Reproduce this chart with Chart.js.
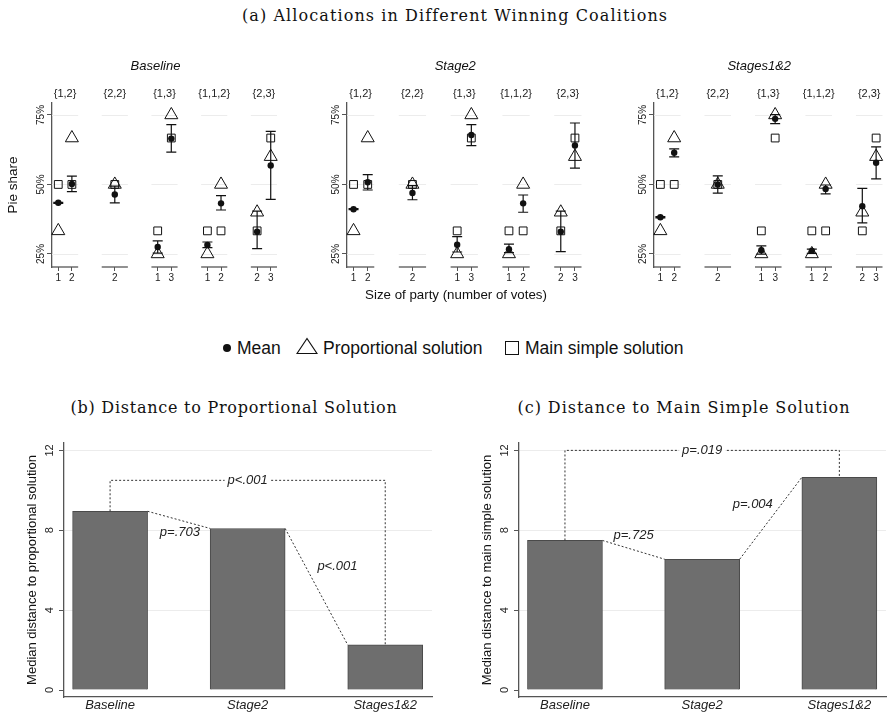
<!DOCTYPE html>
<html>
<head>
<meta charset="utf-8">
<script src="https://cdn.jsdelivr.net/npm/chart.js@4.4.1/dist/chart.umd.min.js"></script>
<style>
body { margin: 0; background: #fff; }
#wrap { position: relative; width: 891px; height: 717px; overflow: hidden; font-family: 'Liberation Sans', Arial, sans-serif; color: #111; }
canvas { position: absolute; }
.t { position: absolute; white-space: nowrap; transform: translate(-50%, -50%); }
.serif { font-family: 'DejaVu Serif', serif; font-size: 16px; }
.lg { position: absolute; top: 338px; line-height: 20px; font-size: 17.5px; white-space: nowrap; }
</style>
</head>
<body>
<div id="wrap">
  <div class="t serif" style="left:455px;top:15px;letter-spacing:1.1px">(a) Allocations in Different Winning Coalitions</div>
  <canvas id="pBase" width="290" height="240" style="left:0;top:50px"></canvas>
  <canvas id="pStage2" width="295" height="240" style="left:295px;top:50px"></canvas>
  <canvas id="pStages12" width="289" height="240" style="left:602px;top:50px"></canvas>
  <div class="t" style="left:456px;top:294px;font-size:13.3px">Size of party (number of votes)</div>

  <span style="position:absolute;left:223px;top:344px;width:8px;height:8px;border-radius:50%;background:#111"></span>
  <span class="lg" style="left:237px">Mean</span>
  <svg style="position:absolute;left:296px;top:337px" width="22" height="18"><polygon points="11,1.5 21,16.5 1,16.5" fill="none" stroke="#111" stroke-width="1.2"/></svg>
  <span class="lg" style="left:323px">Proportional solution</span>
  <span style="position:absolute;left:505px;top:341px;width:14px;height:14px;box-sizing:border-box;border:1.3px solid #111"></span>
  <span class="lg" style="left:525px">Main simple solution</span>

  <div class="t serif" style="left:234px;top:407px;letter-spacing:0.75px">(b) Distance to Proportional Solution</div>
  <div class="t serif" style="left:684px;top:407px;letter-spacing:0.95px">(c) Distance to Main Simple Solution</div>
  <canvas id="distProp" width="445" height="297" style="left:0;top:420px"></canvas>
  <canvas id="distMain" width="436" height="297" style="left:455px;top:420px"></canvas>
</div>
<script>
// coalitions and the parties shown in each (party size = number of votes)
const groupLabels = ['{1,2}', '{2,2}', '{1,3}', '{1,1,2}', '{2,3}'];
const partySize = ['1', '2', '2', '1', '3', '1', '2', '2', '3'];
const partyGroup = [0, 0, 1, 2, 2, 3, 3, 4, 4];

// theoretical benchmarks
const proportional = [0.333, 0.667, 0.5, 0.25, 0.75, 0.25, 0.5, 0.4, 0.6];
const mainSimple = [0.5, 0.5, 0.5, 0.333, 0.667, 0.333, 0.333, 0.333, 0.667];

// observed mean pie shares with confidence intervals
const baselineMean = [0.434, 0.502, 0.464, 0.275, 0.665, 0.282, 0.432, 0.330, 0.568];
const baselineLow  = [0.432, 0.474, 0.434, 0.253, 0.616, 0.273, 0.408, 0.269, 0.446];
const baselineHigh = [0.436, 0.530, 0.494, 0.297, 0.715, 0.293, 0.460, 0.404, 0.691];

const stage2Mean = [0.411, 0.508, 0.469, 0.283, 0.678, 0.267, 0.432, 0.330, 0.640];
const stage2Low  = [0.409, 0.480, 0.445, 0.257, 0.640, 0.255, 0.400, 0.258, 0.559];
const stage2High = [0.413, 0.535, 0.496, 0.312, 0.715, 0.285, 0.462, 0.404, 0.721];

const stages12Mean = [0.382, 0.614, 0.500, 0.263, 0.736, 0.261, 0.484, 0.422, 0.578];
const stages12Low  = [0.380, 0.599, 0.469, 0.249, 0.719, 0.252, 0.466, 0.362, 0.520];
const stages12High = [0.384, 0.628, 0.531, 0.279, 0.751, 0.267, 0.498, 0.486, 0.635];

const pieTicks = [0.25, 0.5, 0.75];

// panels (b) and (c)
const treatments = ['Baseline', 'Stage2', 'Stages1&2'];
const distProportional = [8.95, 8.09, 2.26];
const distMainSimple = [7.49, 6.55, 10.65];
const pProportional = ['p=.703', 'p<.001', 'p<.001'];
const pMainSimple = ['p=.725', 'p=.004', 'p=.019'];
const distTicks = [0, 4, 8, 12];

Chart.defaults.font.family = "'Liberation Sans', Arial, sans-serif";
Chart.defaults.color = '#222';

const STEP = 3.8, HALF = 1, TICK_OFF = 0.52;
const groupCenter = g => 1 + STEP * g;
const partyX = partySize.map((s, i) => {
  const g = partyGroup[i];
  const n = partyGroup.filter(v => v === g).length;
  if (n === 1) return groupCenter(g);
  const k = partyGroup.slice(0, i).filter(v => v === g).length;
  return groupCenter(g) + (k === 0 ? -TICK_OFF : TICK_OFF);
});
const pts = arr => arr.map((v, i) => ({ x: partyX[i], y: v }));

const panelDecor = {
  id: 'panelDecor',
  beforeDatasetsDraw(chart, args, opts) {
    const { ctx, chartArea, scales: { x, y } } = chart;
    ctx.save();
    groupLabels.forEach((lab, g) => {
      const c = groupCenter(g);
      const x0 = x.getPixelForValue(c - HALF), x1 = x.getPixelForValue(c + HALF);
      ctx.strokeStyle = '#ececec';
      ctx.lineWidth = 1;
      pieTicks.forEach(v => {
        const py = Math.round(y.getPixelForValue(v)) + 0.5;
        ctx.beginPath(); ctx.moveTo(x0, py); ctx.lineTo(x1, py); ctx.stroke();
      });
      ctx.strokeStyle = '#555';
      ctx.lineWidth = 1.3;
      ctx.beginPath(); ctx.moveTo(x0, chartArea.bottom); ctx.lineTo(x1, chartArea.bottom); ctx.stroke();
      ctx.fillStyle = '#222';
      ctx.font = "11px 'Liberation Sans', Arial";
      ctx.textAlign = 'center';
      ctx.textBaseline = 'middle';
      ctx.fillText(lab, (x0 + x1) / 2, chartArea.top - 9);
    });
    ctx.font = "italic 13px 'Liberation Sans', Arial";
    ctx.fillStyle = '#111';
    ctx.fillText(opts.title, (chartArea.left + chartArea.right) / 2 - 9, chartArea.top - 37);
    // confidence intervals
    ctx.strokeStyle = '#111';
    ctx.lineWidth = 1.2;
    opts.low.forEach((lo, i) => {
      const px = x.getPixelForValue(partyX[i]);
      const yl = y.getPixelForValue(lo), yh = y.getPixelForValue(opts.high[i]);
      ctx.beginPath();
      ctx.moveTo(px, yl); ctx.lineTo(px, yh);
      ctx.moveTo(px - 5, yl); ctx.lineTo(px + 5, yl);
      ctx.moveTo(px - 5, yh); ctx.lineTo(px + 5, yh);
      ctx.stroke();
    });
    ctx.restore();
  }
};

function panelChart(id, title, mean, low, high, yTitle, padRight) {
  return new Chart(document.getElementById(id), {
    type: 'scatter',
    data: {
      datasets: [
        { label: 'Main simple solution', data: pts(mainSimple), pointStyle: 'rect', pointRadius: 5.5,
          pointBorderColor: '#111', pointBackgroundColor: 'rgba(0,0,0,0)', pointBorderWidth: 1, clip: false },
        { label: 'Proportional solution', data: pts(proportional), pointStyle: 'triangle', pointRadius: 7.5,
          pointBorderColor: '#111', pointBackgroundColor: 'rgba(0,0,0,0)', pointBorderWidth: 1, clip: false },
        { label: 'Mean', data: pts(mean), pointStyle: 'circle', pointRadius: 3.2,
          pointBorderColor: '#111', pointBackgroundColor: '#111', pointBorderWidth: 0, clip: false }
      ]
    },
    options: {
      responsive: false,
      animation: false,
      events: [],
      layout: { padding: { top: 53, right: padRight, left: 0, bottom: 0 } },
      plugins: {
        legend: { display: false },
        tooltip: { enabled: false },
        panelDecor: { title: title, low: low, high: high }
      },
      scales: {
        x: {
          type: 'linear', min: 0, max: 17.2,
          border: { display: false },
          grid: { drawOnChartArea: false, tickLength: 4, color: '#555' },
          ticks: { padding: 1, autoSkip: false, maxRotation: 0, font: { size: 10 },
                   callback: (v, i) => partySize[i] },
          afterBuildTicks: s => { s.ticks = partyX.map(v => ({ value: v })); },
          afterFit: s => { s.height = 23; }
        },
        y: {
          min: 0.203, max: 0.793,
          border: { color: '#555', width: 1.3 },
          grid: { drawOnChartArea: false, tickLength: 5, color: '#555' },
          ticks: { minRotation: 90, maxRotation: 90, crossAlign: 'center', padding: -4, font: { size: 10 },
                   callback: v => Math.round(v * 100) + '%' },
          title: { display: !!yTitle, text: yTitle || '', font: { size: 13.5 }, color: '#111', padding: { top: 5, bottom: 0 } },
          afterBuildTicks: s => { s.ticks = pieTicks.map(v => ({ value: v })); },
          afterFit: s => { s.width = 52; }
        }
      }
    },
    plugins: [panelDecor]
  });
}

panelChart('pBase', 'Baseline', baselineMean, baselineLow, baselineHigh, 'Pie share', 13);
panelChart('pStage2', 'Stage2', stage2Mean, stage2Low, stage2High, null, 7);
panelChart('pStages12', 'Stages1&2', stages12Mean, stages12Low, stages12High, null, 0);

const pValues = {
  id: 'pValues',
  afterDatasetsDraw(chart, args, opts) {
    const { ctx, scales: { y } } = chart;
    const bars = chart.getDatasetMeta(0).data;
    ctx.save();
    ctx.strokeStyle = '#333';
    ctx.lineWidth = 1;
    ctx.setLineDash([2, 2]);
    ctx.font = "italic 13px 'Liberation Sans', Arial";
    ctx.textAlign = 'center';
    ctx.textBaseline = 'middle';
    ctx.fillStyle = '#222';
    for (let i = 0; i < 2; i++) {
      const a = bars[i], b = bars[i + 1];
      const ax = a.x + a.width / 2, bx = b.x - b.width / 2;
      ctx.beginPath(); ctx.moveTo(ax, a.y); ctx.lineTo(bx, b.y); ctx.stroke();
      const off = opts.offsets[i];
      ctx.fillText(opts.labels[i], (ax + bx) / 2 + off[0], (a.y + b.y) / 2 + off[1]);
    }
    const yl = y.getPixelForValue(opts.level);
    ctx.beginPath();
    ctx.moveTo(bars[0].x, bars[0].y);
    ctx.lineTo(bars[0].x, yl);
    ctx.lineTo(bars[2].x, yl);
    ctx.lineTo(bars[2].x, bars[2].y);
    ctx.stroke();
    const w = ctx.measureText(opts.labels[2]).width + 6;
    ctx.fillStyle = '#fff';
    ctx.fillRect(bars[1].x - w / 2, yl - 7, w, 14);
    ctx.fillStyle = '#222';
    ctx.fillText(opts.labels[2], bars[1].x, yl);
    ctx.restore();
  }
};

function distChart(id, values, labels, level, offsets, yTitle, padRight) {
  return new Chart(document.getElementById(id), {
    type: 'bar',
    data: {
      datasets: [{
        data: values.map((v, i) => ({ x: i, y: v })),
        backgroundColor: '#6e6e6e', borderColor: '#4a4a4a', borderWidth: 1, barThickness: 75
      }]
    },
    options: {
      responsive: false,
      animation: false,
      events: [],
      layout: { padding: { top: 23, right: padRight, left: 0, bottom: 0 } },
      plugins: {
        legend: { display: false },
        tooltip: { enabled: false },
        pValues: { labels: labels, level: level, offsets: offsets }
      },
      scales: {
        x: {
          type: 'linear', min: -0.335, max: 2.34, offset: false,
          border: { color: '#555', width: 1.3 },
          grid: { display: false, drawTicks: false },
          ticks: { padding: 1, autoSkip: false, maxRotation: 0, font: { size: 13, style: 'italic' },
                   callback: (v, i) => treatments[i] },
          afterBuildTicks: s => { s.ticks = treatments.map((t, i) => ({ value: i })); },
          afterFit: s => { s.height = 20; }
        },
        y: {
          min: -0.35, max: 12.37,
          border: { color: '#555', width: 1.3 },
          grid: { color: c => (c.tick && c.tick.value === 0) ? 'rgba(0,0,0,0)' : '#ececec',
                  tickColor: '#555', tickLength: 5 },
          ticks: { minRotation: 90, maxRotation: 90, crossAlign: 'center', padding: 3, font: { size: 11 } },
          title: { display: true, text: yTitle, font: { size: 13 }, color: '#111', padding: { top: 25, bottom: 0 } },
          afterBuildTicks: s => { s.ticks = distTicks.map(v => ({ value: v })); },
          afterFit: s => { s.width = 64; }
        }
      }
    },
    plugins: [pValues]
  });
}

distChart('distProp', distProportional, pProportional, 10.5, [[1, 13], [21, -20]],
  'Median distance to proportional solution', 13);
distChart('distMain', distMainSimple, pMainSimple, 12, [[0, -14], [-18, -13.5]],
  'Median distance to main simple solution', 5);
</script>
</body>
</html>
